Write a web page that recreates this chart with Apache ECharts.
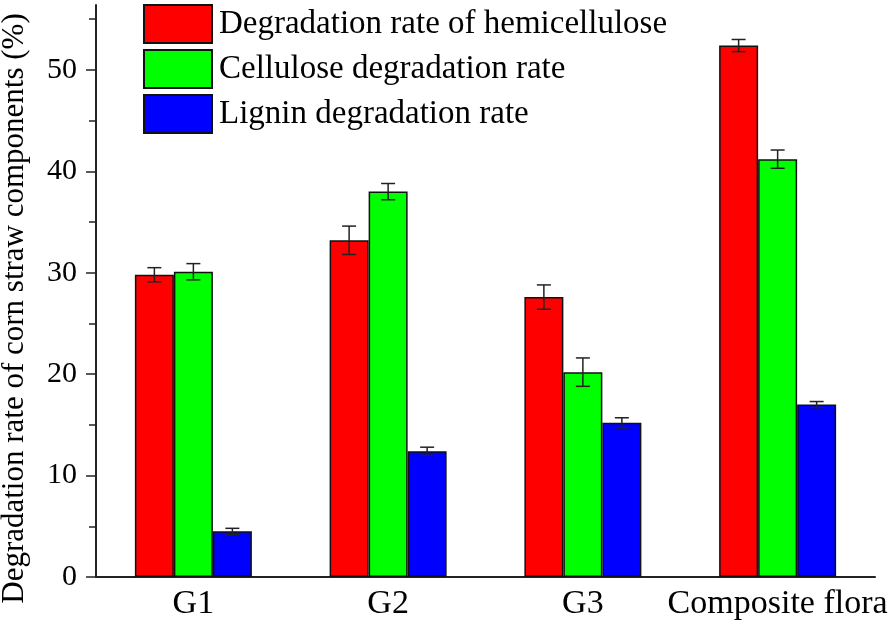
<!DOCTYPE html>
<html>
<head>
<meta charset="utf-8">
<script src="https://cdn.jsdelivr.net/npm/echarts@6/dist/echarts.min.js"></script>
<style>
  html, body { margin: 0; padding: 0; background: #fff; }
  #chart { width: 896px; height: 628px; }
</style>
</head>
<body>
<div id="chart"></div>
<script>
  var groups = ['G1', 'G2', 'G3', 'Composite flora'];
  var seriesNames = ['Degradation rate of hemicellulose', 'Cellulose degradation rate', 'Lignin degradation rate'];
  var hemicellulose = [29.8, 33.2, 27.6, 52.4];
  var cellulose = [30.1, 38.0, 20.2, 41.2];
  var lignin = [4.5, 12.4, 15.2, 17.0];
  var hemicelluloseErr = [0.7, 1.4, 1.2, 0.6];
  var celluloseErr = [0.8, 0.8, 1.4, 0.9];
  var ligninErr = [0.3, 0.4, 0.5, 0.3];
  var majorTicks = [0, 10, 20, 30, 40, 50];
  var minorTicks = [5, 15, 25, 35, 45, 55];

  var colors = ['#ff0000', '#00ff00', '#0000ff'];
  var values = [hemicellulose, cellulose, lignin];
  var errors = [hemicelluloseErr, celluloseErr, ligninErr];
  var barW = 39;
  var font = 'Liberation Serif';

  var series = [];
  values.forEach(function (vals, i) {
    series.push({
      name: seriesNames[i],
      type: 'bar',
      barWidth: barW,
      barGap: 0,
      data: vals,
      itemStyle: { color: colors[i], borderColor: '#111', borderWidth: 1.5 }
    });
  });
  // error bars, shifted onto each bar of the group
  values.forEach(function (vals, i) {
    series.push({
      type: 'custom',
      silent: true,
      z: 5,
      encode: { x: 0, y: 1 },
      data: vals.map(function (v, j) { return [j, v, errors[i][j]]; }),
      renderItem: function (params, api) {
        var c = api.value(0), v = api.value(1), e = api.value(2);
        var hi = api.coord([c, v + e]);
        var lo = api.coord([c, v - e]);
        var x = hi[0] + (i - 1) * barW;
        var cap = 7;
        var st = { stroke: '#222', lineWidth: 1.5 };
        return {
          type: 'group',
          children: [
            { type: 'line', shape: { x1: x, y1: hi[1], x2: x, y2: lo[1] }, style: st },
            { type: 'line', shape: { x1: x - cap, y1: hi[1], x2: x + cap, y2: hi[1] }, style: st },
            { type: 'line', shape: { x1: x - cap, y1: lo[1], x2: x + cap, y2: lo[1] }, style: st }
          ]
        };
      }
    });
  });

  var chart = echarts.init(document.getElementById('chart'));
  chart.setOption({
    backgroundColor: '#fff',
    animation: false,
    textStyle: { fontFamily: font, color: '#000' },
    legend: {
      orient: 'vertical',
      left: 138,
      top: -1,
      itemWidth: 68,
      itemHeight: 38,
      itemGap: 5,
      icon: 'rect',
      data: seriesNames,
      textStyle: { fontFamily: font, fontSize: 33, color: '#000', padding: [0, 0, 0, 2] }
    },
    grid: { left: 96, right: 21, top: 5, bottom: 51, outerBoundsMode: 'none' },
    xAxis: {
      type: 'category',
      data: groups,
      axisLine: { lineStyle: { color: '#222', width: 2 } },
      axisTick: { show: false },
      axisLabel: { interval: 0, fontFamily: font, fontSize: 34, color: '#000', margin: 10 }
    },
    yAxis: [{
      type: 'value',
      min: 0,
      max: 56.4,
      interval: 10,
      name: 'Degradation rate of corn straw components (%)',
      nameLocation: 'middle',
      nameGap: 66,
      nameTextStyle: { fontFamily: font, fontSize: 31, color: '#000', padding: [0, 35, 0, 0] },
      splitLine: { show: false },
      axisLine: { show: true, lineStyle: { color: '#222', width: 2 } },
      axisTick: { show: true, length: 10, customValues: majorTicks, lineStyle: { color: '#222', width: 1.5 } },
      axisLabel: { customValues: majorTicks, fontFamily: font, fontSize: 30, color: '#000', margin: 19 }
    }, {
      type: 'value',
      position: 'left',
      min: 0,
      max: 56.4,
      interval: 10,
      splitLine: { show: false },
      axisLine: { show: false },
      axisTick: { show: true, length: 7, customValues: minorTicks, lineStyle: { color: '#222', width: 1.5 } },
      axisLabel: { show: false }
    }],
    series: series
  });
</script>
</body>
</html>
